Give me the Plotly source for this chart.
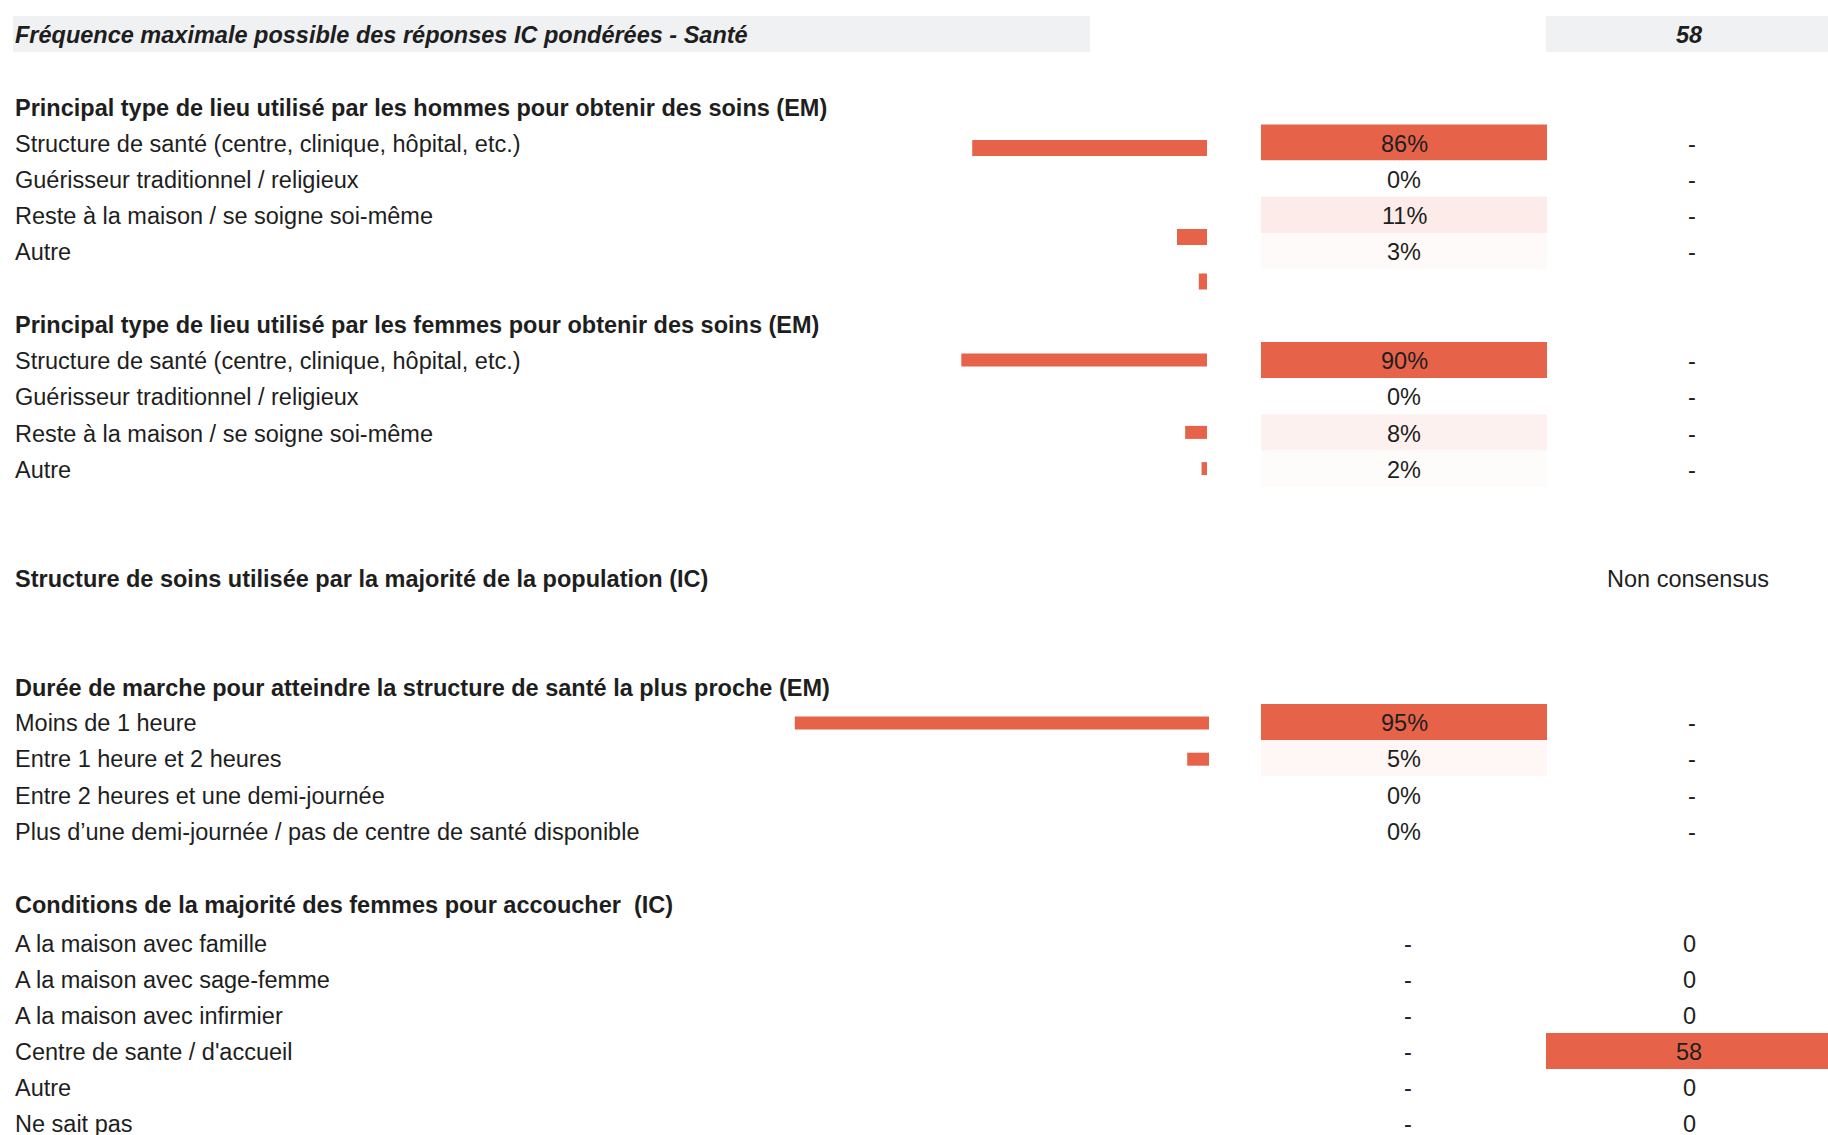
import plotly.graph_objects as go

W, H = 1828, 1135
OFF = 0   # body margin removed in the page, so layout constants are screen pixels
ACCENT = "#E6634A"
HEADER_BG = "#F0F1F3"
TEXT = "#1e1e1e"
FONT = "Liberation Sans, Arial, Helvetica, sans-serif"
FS = 23.5
TXT_DY = 1.2  # small vertical nudge of texts

# ---------------- data ----------------
header_title = "Fréquence maximale possible des réponses IC pondérées - Santé"
max_freq = 58

men_title = "Principal type de lieu utilisé par les hommes pour obtenir des soins (EM)"
men_labels = ["Structure de santé (centre, clinique, hôpital, etc.)",
              "Guérisseur traditionnel / religieux",
              "Reste à la maison / se soigne soi-même",
              "Autre"]
men_pct = [86, 0, 11, 3]

women_title = "Principal type de lieu utilisé par les femmes pour obtenir des soins (EM)"
women_labels = ["Structure de santé (centre, clinique, hôpital, etc.)",
                "Guérisseur traditionnel / religieux",
                "Reste à la maison / se soigne soi-même",
                "Autre"]
women_pct = [90, 0, 8, 2]

structure_title = "Structure de soins utilisée par la majorité de la population (IC)"
structure_answer = "Non consensus"

walk_title = "Durée de marche pour atteindre la structure de santé la plus proche (EM)"
walk_labels = ["Moins de 1 heure",
               "Entre 1 heure et 2 heures",
               "Entre 2 heures et une demi-journée",
               "Plus d’une demi-journée / pas de centre de santé disponible"]
walk_pct = [95, 5, 0, 0]

birth_title = "Conditions de la majorité des femmes pour accoucher  (IC)"
birth_labels = ["A la maison avec famille",
                "A la maison avec sage-femme",
                "A la maison avec infirmier",
                "Centre de sante / d'accueil",
                "Autre",
                "Ne sait pas"]
birth_counts = [0, 0, 0, 58, 0, 0]

# ---------------- layout constants (screen px) ----------------
ROW = 36.2
LABEL_X = 14
PCT_L, PCT_R = 1261, 1547
CNT_L, CNT_R = 1546, 1828
PCT_C = (PCT_L + PCT_R) / 2
CNT_C = 1689
BAR_END = 1207
BAR_SCALE_A = 273   # px for 100 % (sections 1-2)
BAR_SCALE_B = 436   # px for 100 % (section 4)

sec1_title_y, sec1_row0 = 107, 142.5
sec2_title_y, sec2_row0 = 324, 360
sec3_title_y = 578
sec4_title_y, sec4_row0 = 687, 722
sec5_title_y, sec5_row0 = 904, 943


def rows(y0, n, step=ROW):
    return [y0 + i * step for i in range(n)]


def dom(px):
    return min(max((px - OFF) / W, 0), 1)


fig = go.Figure()
annotations = []


def label(x, y, text, bold=False, italic=False, anchor="left", size=FS):
    t = text
    if bold:
        t = "<b>" + t + "</b>"
    if italic:
        t = "<i>" + t + "</i>"
    annotations.append(dict(x=x, y=y + TXT_DY, xref="x", yref="y", text=t, showarrow=False,
                            xanchor=anchor, yanchor="middle", borderpad=0,
                            font=dict(family=FONT, size=size, color=TEXT)))


# header
shapes = [
    dict(type="rect", xref="x", yref="y", x0=13, x1=1090, y0=16, y1=52,
         fillcolor=HEADER_BG, line_width=0, layer="below"),
    dict(type="rect", xref="x", yref="y", x0=CNT_L, x1=CNT_R + 4, y0=16, y1=52,
         fillcolor=HEADER_BG, line_width=0, layer="below"),
]
label(LABEL_X, 34, header_title, bold=True, italic=True)
label(CNT_C, 34, str(max_freq), bold=True, italic=True, anchor="center")


def pct_section(title, title_y, labels, vals, row0, bar_axis, bar_rows, bar_h):
    label(LABEL_X, title_y, title, bold=True)
    ys = rows(row0, len(labels))
    for y, lab, v in zip(ys, labels, vals):
        label(LABEL_X, y, lab)
        label(PCT_C, y, f"{v}%", anchor="center")
        label(CNT_C + 3, y, "-", anchor="center")
    # data bars
    fig.add_trace(go.Bar(x=vals, y=bar_rows, base=0, orientation="h", width=bar_h,
                         marker=dict(color=ACCENT, line_width=0),
                         xaxis=bar_axis, yaxis="y", hoverinfo="skip", showlegend=False))
    # colour-scaled cells
    fig.add_trace(go.Bar(x=[1] * len(vals), y=ys, base=0, orientation="h", width=ROW,
                         marker=dict(color=vals, cmin=0, cmax=max(vals),
                                     colorscale=[[0, "#FFFFFF"], [1, ACCENT]], line_width=0),
                         xaxis="x4", yaxis="y", hoverinfo="skip", showlegend=False))


# section 1 (bars drawn with offset spacing as in the source)
pct_section(men_title, sec1_title_y, men_labels, men_pct, sec1_row0, "x2",
            rows(sec1_row0 + 5.5, len(men_pct), 44.5), 16)
# section 2
pct_section(women_title, sec2_title_y, women_labels, women_pct, sec2_row0, "x2",
            rows(sec2_row0, len(women_pct)), 13)
# section 3
label(LABEL_X, sec3_title_y, structure_title, bold=True)
label(CNT_C - 1, sec3_title_y, structure_answer, anchor="center")
# section 4
pct_section(walk_title, sec4_title_y, walk_labels, walk_pct, sec4_row0, "x3",
            rows(sec4_row0 + 1, len(walk_pct)), 13)

# section 5
label(LABEL_X, sec5_title_y, birth_title, bold=True)
ys5 = rows(sec5_row0, len(birth_labels), 36)
for y, lab, c in zip(ys5, birth_labels, birth_counts):
    label(LABEL_X, y, lab)
    label(PCT_C + 4, y, "-", anchor="center")
    label(CNT_C, y, str(c), anchor="center")
fig.add_trace(go.Bar(x=[1] * len(birth_counts), y=ys5, base=0, orientation="h", width=36,
                     marker=dict(color=birth_counts, cmin=0, cmax=max_freq,
                                 colorscale=[[0, "#FFFFFF"], [1, ACCENT]], line_width=0),
                     xaxis="x5", yaxis="y", hoverinfo="skip", showlegend=False))

hidden = dict(visible=False, showgrid=False, zeroline=False, fixedrange=True)
fig.update_layout(
    width=W, height=H, margin=dict(l=0, r=0, t=0, b=0),
    paper_bgcolor="white", plot_bgcolor="rgba(0,0,0,0)",
    barmode="overlay", showlegend=False,
    xaxis=dict(hidden, range=[OFF, W + OFF], domain=[0, 1]),
    yaxis=dict(hidden, range=[H + OFF, OFF], domain=[0, 1]),
    xaxis2=dict(hidden, range=[100, 0], domain=[dom(BAR_END - BAR_SCALE_A), dom(BAR_END)], anchor="y"),
    xaxis3=dict(hidden, range=[100, 0], domain=[dom(BAR_END + 2 - BAR_SCALE_B), dom(BAR_END + 2)], anchor="y"),
    xaxis4=dict(hidden, range=[0, 1], domain=[dom(PCT_L), dom(PCT_R)], anchor="y"),
    xaxis5=dict(hidden, range=[0, 1], domain=[dom(CNT_L), dom(CNT_R)], anchor="y"),
    shapes=shapes, annotations=annotations,
    font=dict(family=FONT, color=TEXT),
)

fig.write_html("out.html",
               config={"displayModeBar": False},
               post_script="document.body.style.margin='0';"
                           "document.documentElement.style.overflow='hidden';")
